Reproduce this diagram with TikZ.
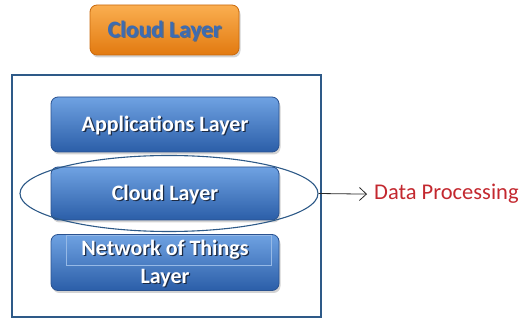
\documentclass[tikz,border=0pt]{standalone}
\usepackage{fontspec}
\setmainfont{Carlito}
\usetikzlibrary{shadows,arrows.meta,shapes.geometric}

\definecolor{frameblue}{HTML}{2E5A88}
\definecolor{boxtop}{HTML}{6FA2E2}
\definecolor{boxmid}{HTML}{3E75C2}
\definecolor{boxbot}{HTML}{2B5EA8}
\definecolor{boxedge}{HTML}{2A5290}
\definecolor{orgtop}{HTML}{FAAE50}
\definecolor{orgmid}{HTML}{F39226}
\definecolor{orgbot}{HTML}{E27A10}
\definecolor{orgedge}{HTML}{C9690C}
\definecolor{cloudtext}{HTML}{3C6CB4}
\definecolor{dptext}{HTML}{C3282F}
\definecolor{txtshadow}{HTML}{1B2A44}

% text with a small offset shadow behind it
\newcommand\shtext[2]{\makebox[0pt][l]{\kern1.3pt\raisebox{-1.3pt}{\color{#1}#2}}#2}

\tikzset{
  layerbox/.style={rectangle, rounded corners=7pt, draw=boxedge, line width=0.8pt,
    top color=boxtop, middle color=boxmid, bottom color=boxbot,
    minimum width=228pt, inner sep=0pt, align=center,
    text height=14.3pt, text depth=0pt,
    font=\bfseries\fontsize{22}{28}\selectfont, text=white,
    drop shadow={shadow xshift=1.5pt, shadow yshift=-2.5pt, opacity=0.35}},
  orangebox/.style={rectangle, rounded corners=7pt, draw=orgedge, line width=0.8pt,
    top color=orgtop, middle color=orgmid, bottom color=orgbot,
    minimum width=149pt, minimum height=50pt, inner sep=0pt,
    text height=14.5pt, text depth=0pt,
    font=\bfseries\fontsize{23.5}{24}\selectfont, text=cloudtext,
    drop shadow={shadow xshift=1.5pt, shadow yshift=-2.5pt, opacity=0.35}},
  frame/.style={draw=frameblue, line width=2pt},
  ring/.style={ellipse, draw=frameblue, line width=1.1pt, minimum width=298pt,
    minimum height=76pt, inner sep=0pt},
  note/.style={font=\fontsize{22.5}{24}\selectfont, text=dptext, inner sep=0pt, anchor=base west},
  link/.style={draw={rgb,255:red,40;green,40;blue,40}, line width=0.8pt,
    -{Straight Barb[length=7pt,width=13pt]}, shorten >=7pt}
}

\begin{document}
\begin{tikzpicture}[x=1pt,y=-1pt]
  \useasboundingbox (0,0) rectangle (520,320);

  % top cloud badge
  \node[orangebox] (top) at (164.5,30) {\shtext{txtshadow!70}{Cloud Layer}};

  % container frame
  \draw[frame] (12,75) rectangle (321,317);

  % stacked layers
  \node[layerbox, minimum height=55pt] (apps) at (165,124.5) {\shtext{txtshadow}{Applications Layer}};
  \node[layerbox, minimum height=53pt] (cloud) at (165,193.5) {\shtext{txtshadow}{Cloud Layer}};
  \node[layerbox, minimum height=56pt, text height=42.3pt, text depth=0pt] (net) at (165,262.5)
    {\shtext{txtshadow}{Network of Things}\\\shtext{txtshadow}{Layer}};
  % faint frame around the first text line
  \draw[draw={rgb,255:red,150;green,185;blue,230}, line width=0.4pt]
    ([xshift=16pt,yshift=-1.5pt]net.north west) rectangle ([xshift=-8pt,yshift=-2.5pt]net.east);

  % highlight around the cloud layer
  \node[ring] (ring) at (169,193.5) {};

  % annotation
  \node[note] (dp) at (374,200) {Data Processing};
  \draw[link] (ring.east) -- (dp.west);
\end{tikzpicture}
\end{document}
